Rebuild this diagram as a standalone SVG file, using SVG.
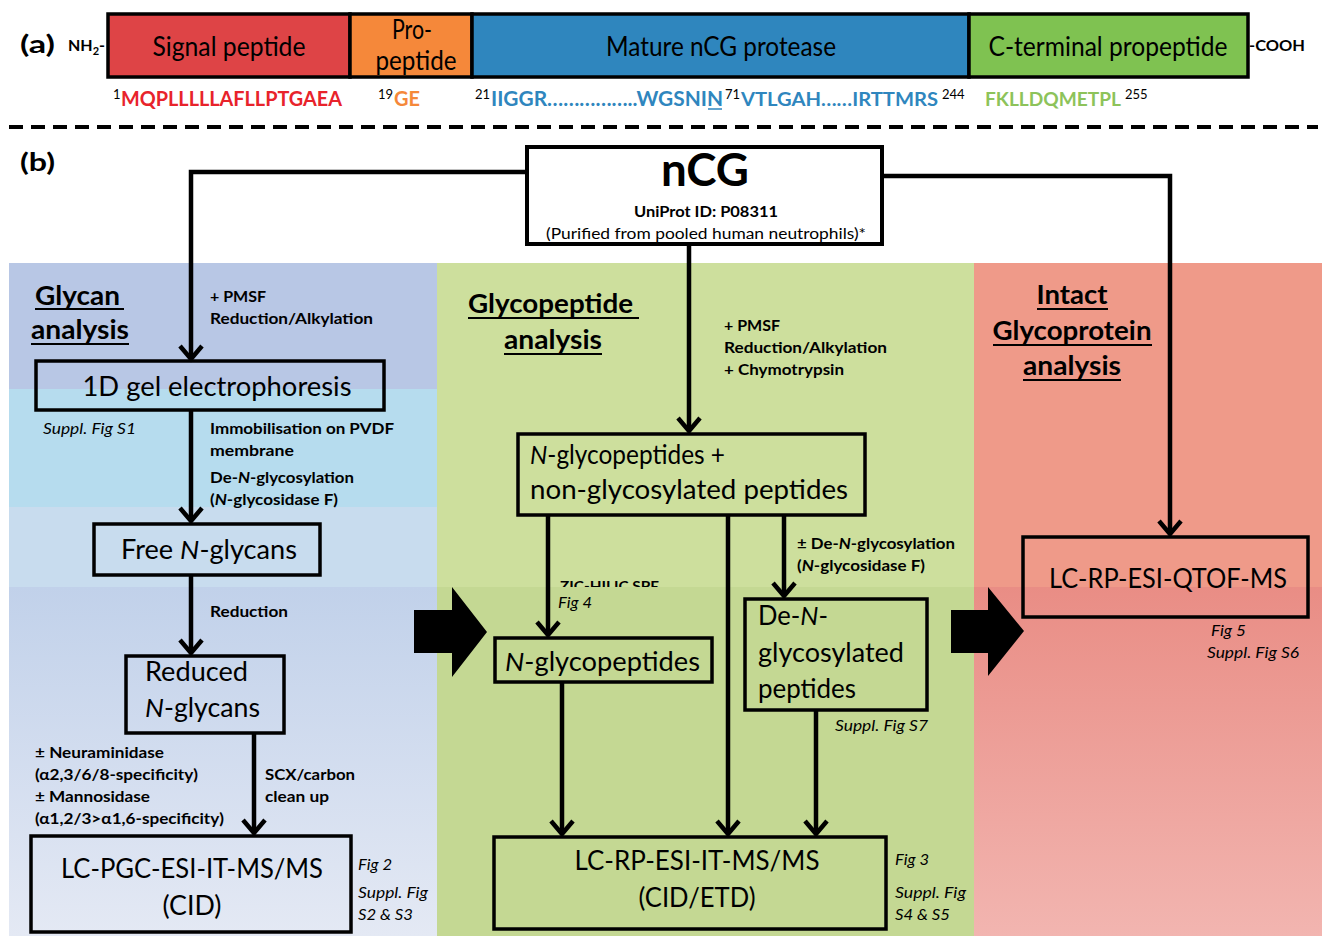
<svg xmlns="http://www.w3.org/2000/svg" width="1322" height="936" viewBox="0 0 1322 936">
<defs>
<linearGradient id="gL" x1="0" y1="0" x2="0" y2="1"><stop offset="0" stop-color="#c1d1ea"/><stop offset="1" stop-color="#e4e9f4"/></linearGradient>
<linearGradient id="gR" x1="0" y1="0" x2="0" y2="1"><stop offset="0" stop-color="#e98d85"/><stop offset="1" stop-color="#f2b5b0"/></linearGradient>
<marker id="ah" viewBox="-16 -13 20 26" markerWidth="20" markerHeight="26" refX="0" refY="0" orient="auto" markerUnits="userSpaceOnUse" overflow="visible">
<path d="M-13,-11 L0,0 L-13,11" fill="none" stroke="#000" stroke-width="4.5" stroke-linejoin="miter"/>
</marker>
<clipPath id="cz"><rect x="540" y="560" width="200" height="27"/></clipPath>
</defs>
<style>
text{font-family:"Lato","Open Sans","Liberation Sans",sans-serif;fill:#000}
.box{fill:none;stroke:#000;stroke-width:3.5}
.seg{stroke:#000;stroke-width:3.5}
.lbl{font-size:26px}
.big{font-size:27px}
.sm{font-size:15.5px;font-weight:bold}
.it{font-size:15px;font-style:italic}
.hd{font-size:26px;font-weight:bold}
.ul{stroke:#000;stroke-width:2}
.con{fill:none;stroke:#000;stroke-width:4.5}
.seq{font-size:20px;font-weight:bold}
.sup{font-size:13px;fill:#000}
</style>

<!-- backgrounds -->
<g id="backgrounds">
<rect x="9" y="263" width="428" height="126" fill="#b8c7e5"/>
<rect x="9" y="389" width="428" height="118" fill="#b6dcee"/>
<rect x="9" y="507" width="428" height="80" fill="#c8dcee"/>
<rect x="9" y="587" width="428" height="349" fill="url(#gL)"/>
<rect x="437" y="263" width="537" height="324" fill="#cddf9d"/>
<rect x="437" y="587" width="537" height="349" fill="#c4d893"/>
<rect x="974" y="263" width="348" height="324" fill="#ef9a89"/>
<rect x="974" y="587" width="348" height="349" fill="url(#gR)"/>
</g>

<!-- part (a) -->
<g id="panel-a">
<text x="20" y="53" style="font-size:25px;font-weight:bold" textLength="35" lengthAdjust="spacingAndGlyphs">(a)</text>
<text x="68" y="51" style="font-size:16px;font-weight:bold">NH<tspan style="font-size:11px" dy="4">2</tspan><tspan dy="-4">-</tspan></text>
<g id="seg-signal"><rect x="108" y="14" width="242" height="63" fill="#de4446" class="seg"/><text x="229" y="56" class="lbl" text-anchor="middle" textLength="153" lengthAdjust="spacingAndGlyphs">Signal peptide</text></g>
<g id="seg-pro"><rect x="350" y="14" width="122" height="63" fill="#f5883a" class="seg"/><text x="412" y="39" class="lbl" text-anchor="middle" textLength="40" lengthAdjust="spacingAndGlyphs">Pro-</text><text x="416" y="70" class="lbl" text-anchor="middle" textLength="81" lengthAdjust="spacingAndGlyphs">peptide</text></g>
<g id="seg-mature"><rect x="472" y="14" width="497" height="63" fill="#2f86be" class="seg"/><text x="721" y="56" class="lbl" text-anchor="middle" textLength="230" lengthAdjust="spacingAndGlyphs">Mature nCG protease</text></g>
<g id="seg-cterm"><rect x="969" y="14" width="279" height="63" fill="#7fc251" class="seg"/><text x="1108" y="56" class="lbl" text-anchor="middle" textLength="239" lengthAdjust="spacingAndGlyphs">C-terminal propeptide</text></g>
<text x="1249" y="51" style="font-size:16px;font-weight:bold" textLength="56" lengthAdjust="spacingAndGlyphs">-COOH</text>
<g id="sequences">
<text x="113" y="99" class="sup">1</text>
<text x="121" y="106" class="seq" style="fill:#e8232b" textLength="221" lengthAdjust="spacingAndGlyphs">MQPLLLLLAFLLPTGAEA</text>
<text x="378" y="99" class="sup">19</text>
<text x="394" y="106" class="seq" style="fill:#f5883a" textLength="26" lengthAdjust="spacingAndGlyphs">GE</text>
<text x="475" y="99" class="sup">21</text>
<text x="491" y="106" class="seq" style="fill:#2f86be" textLength="232" lengthAdjust="spacingAndGlyphs">IIGGR……………..WGSNIN</text>
<line x1="708" y1="109" x2="722" y2="109" stroke="#2f86be" stroke-width="1.5"/>
<text x="725" y="99" class="sup">71</text>
<text x="741" y="106" class="seq" style="fill:#2f86be;font-size:18px" textLength="197" lengthAdjust="spacingAndGlyphs">VTLGAH……IRTTMRS</text>
<text x="942" y="99" class="sup">244</text>
<text x="985" y="106" class="seq" style="fill:#8dc35a;font-size:18px" textLength="136" lengthAdjust="spacingAndGlyphs">FKLLDQMETPL</text>
<text x="1125" y="99" class="sup">255</text>
</g>
<line x1="9" y1="127" x2="1318" y2="127" stroke="#000" stroke-width="4" stroke-dasharray="14 8"/>
</g>

<text x="20" y="171" style="font-size:25px;font-weight:bold" textLength="35" lengthAdjust="spacingAndGlyphs">(b)</text>

<!-- connectors -->
<g id="connectors">
<path class="con" d="M527,172 H191 V359" marker-end="url(#ah)"/>
<path class="con" d="M882,176 H1170 V534" marker-end="url(#ah)"/>
<path class="con" d="M689,244 V431" marker-end="url(#ah)"/>
<path class="con" d="M191,410 V521" marker-end="url(#ah)"/>
<path class="con" d="M191,575 V653" marker-end="url(#ah)"/>
<path class="con" d="M254,733 V833" marker-end="url(#ah)"/>
<path class="con" d="M548,515 V635" marker-end="url(#ah)"/>
<path class="con" d="M728,515 V834" marker-end="url(#ah)"/>
<path class="con" d="M784,515 V596" marker-end="url(#ah)"/>
<path class="con" d="M562,682 V834" marker-end="url(#ah)"/>
<path class="con" d="M816,710 V834" marker-end="url(#ah)"/>
<polygon points="414,610 452,610 452,587 487,632 452,677 452,653 414,653" fill="#000"/>
<polygon points="951,610 988,610 988,587 1024,631 988,676 988,653 951,653" fill="#000"/>
</g>

<!-- nCG -->
<g id="node-ncg">
<rect x="527" y="147" width="355" height="97" fill="#fff" stroke="#000" stroke-width="4"/>
<text x="705" y="186" text-anchor="middle" style="font-size:46px;font-weight:bold" textLength="88" lengthAdjust="spacingAndGlyphs">nCG</text>
<text x="706" y="217" text-anchor="middle" class="sm" textLength="144" lengthAdjust="spacingAndGlyphs">UniProt ID: P08311</text>
<text x="706" y="239" text-anchor="middle" style="font-size:15.5px" textLength="320" lengthAdjust="spacingAndGlyphs">(Purified from pooled human neutrophils)*</text>
</g>

<!-- left panel -->
<g id="title-glycan">
<text x="35" y="305" class="hd" textLength="85" lengthAdjust="spacingAndGlyphs">Glycan</text>
<line class="ul" x1="35" y1="309" x2="124" y2="309"/>
<text x="31" y="339" class="hd" textLength="98" lengthAdjust="spacingAndGlyphs">analysis</text>
<line class="ul" x1="31" y1="344" x2="129" y2="344"/>
</g>
<g id="lbl-left1">
<text x="210" y="302" class="sm" textLength="56" lengthAdjust="spacingAndGlyphs">+ PMSF</text>
<text x="210" y="324" class="sm" textLength="163" lengthAdjust="spacingAndGlyphs">Reduction/Alkylation</text>
</g>
<g id="node-gel">
<rect class="box" x="36" y="361" width="348" height="49"/>
<text x="217" y="396" class="big" text-anchor="middle" textLength="269" lengthAdjust="spacingAndGlyphs">1D gel electrophoresis</text>
<text x="43" y="434" class="it" textLength="93" lengthAdjust="spacingAndGlyphs">Suppl. Fig S1</text>
</g>
<g id="lbl-left2">
<text x="210" y="434" class="sm" textLength="184" lengthAdjust="spacingAndGlyphs">Immobilisation on PVDF</text>
<text x="210" y="456" class="sm" textLength="84" lengthAdjust="spacingAndGlyphs">membrane</text>
<text x="210" y="483" class="sm" textLength="144" lengthAdjust="spacingAndGlyphs">De-<tspan font-style="italic">N</tspan>-glycosylation</text>
<text x="210" y="505" class="sm" textLength="128" lengthAdjust="spacingAndGlyphs">(<tspan font-style="italic">N</tspan>-glycosidase F)</text>
</g>
<g id="node-free">
<rect class="box" x="94" y="524" width="226" height="51"/>
<text x="209" y="559" class="lbl" text-anchor="middle" textLength="176" lengthAdjust="spacingAndGlyphs">Free <tspan font-style="italic">N</tspan>-glycans</text>
</g>
<text x="210" y="617" class="sm" textLength="78" lengthAdjust="spacingAndGlyphs">Reduction</text>
<g id="node-reduced">
<rect class="box" x="126" y="656" width="158" height="77"/>
<text x="145" y="681" class="lbl" textLength="103" lengthAdjust="spacingAndGlyphs">Reduced</text>
<text x="145" y="717" class="lbl" textLength="115" lengthAdjust="spacingAndGlyphs"><tspan font-style="italic">N</tspan>-glycans</text>
</g>
<g id="lbl-left3">
<text x="35" y="758" class="sm" textLength="129" lengthAdjust="spacingAndGlyphs">± Neuraminidase</text>
<text x="35" y="780" class="sm" textLength="163" lengthAdjust="spacingAndGlyphs">(α2,3/6/8-specificity)</text>
<text x="35" y="802" class="sm" textLength="115" lengthAdjust="spacingAndGlyphs">± Mannosidase</text>
<text x="35" y="824" class="sm" textLength="189" lengthAdjust="spacingAndGlyphs">(α1,2/3&gt;α1,6-specificity)</text>
<text x="265" y="780" class="sm" textLength="90" lengthAdjust="spacingAndGlyphs">SCX/carbon</text>
<text x="265" y="802" class="sm" textLength="64" lengthAdjust="spacingAndGlyphs">clean up</text>
</g>
<g id="node-pgc">
<rect class="box" x="31" y="836" width="320" height="96"/>
<text x="192" y="878" class="big" text-anchor="middle" textLength="262" lengthAdjust="spacingAndGlyphs">LC-PGC-ESI-IT-MS/MS</text>
<text x="192" y="915" class="big" text-anchor="middle" textLength="59" lengthAdjust="spacingAndGlyphs">(CID)</text>
<text x="358" y="870" class="it" textLength="34" lengthAdjust="spacingAndGlyphs">Fig 2</text>
<text x="358" y="898" class="it" textLength="70" lengthAdjust="spacingAndGlyphs">Suppl. Fig</text>
<text x="358" y="920" class="it" textLength="55" lengthAdjust="spacingAndGlyphs">S2 &amp; S3</text>
</g>

<!-- middle panel -->
<g id="title-glycopeptide">
<text x="468" y="313" class="hd" textLength="165" lengthAdjust="spacingAndGlyphs">Glycopeptide</text>
<line class="ul" x1="468" y1="318" x2="639" y2="318"/>
<text x="504" y="349" class="hd" textLength="98" lengthAdjust="spacingAndGlyphs">analysis</text>
<line class="ul" x1="504" y1="354" x2="602" y2="354"/>
</g>
<g id="lbl-mid1">
<text x="724" y="331" class="sm" textLength="56" lengthAdjust="spacingAndGlyphs">+ PMSF</text>
<text x="724" y="353" class="sm" textLength="163" lengthAdjust="spacingAndGlyphs">Reduction/Alkylation</text>
<text x="724" y="375" class="sm" textLength="120" lengthAdjust="spacingAndGlyphs">+ Chymotrypsin</text>
</g>
<g id="node-mix">
<rect class="box" x="518" y="434" width="347" height="81"/>
<text x="530" y="464" class="lbl" textLength="195" lengthAdjust="spacingAndGlyphs"><tspan font-style="italic">N</tspan>-glycopeptides +</text>
<text x="530" y="499" class="lbl" textLength="318" lengthAdjust="spacingAndGlyphs">non-glycosylated peptides</text>
</g>
<g id="lbl-mid2">
<text x="797" y="549" class="sm" textLength="158" lengthAdjust="spacingAndGlyphs">± De-<tspan font-style="italic">N</tspan>-glycosylation</text>
<text x="797" y="571" class="sm" textLength="128" lengthAdjust="spacingAndGlyphs">(<tspan font-style="italic">N</tspan>-glycosidase F)</text>
<text x="560" y="591" class="sm" style="font-size:14px" clip-path="url(#cz)" textLength="99" lengthAdjust="spacingAndGlyphs">ZIC-HILIC SPE</text>
<text x="558" y="608" class="it" textLength="34" lengthAdjust="spacingAndGlyphs">Fig 4</text>
</g>
<g id="node-nglyco">
<rect class="box" x="495" y="638" width="217" height="44"/>
<text x="505" y="671" class="lbl" textLength="195" lengthAdjust="spacingAndGlyphs"><tspan font-style="italic">N</tspan>-glycopeptides</text>
</g>
<g id="node-deglyco">
<rect class="box" x="745" y="599" width="182" height="111"/>
<text x="758" y="625" class="lbl" textLength="70" lengthAdjust="spacingAndGlyphs">De-<tspan font-style="italic">N</tspan>-</text>
<text x="758" y="662" class="lbl" textLength="146" lengthAdjust="spacingAndGlyphs">glycosylated</text>
<text x="758" y="698" class="lbl" textLength="98" lengthAdjust="spacingAndGlyphs">peptides</text>
<text x="835" y="731" class="it" textLength="93" lengthAdjust="spacingAndGlyphs">Suppl. Fig S7</text>
</g>
<g id="node-rp">
<rect class="box" x="494" y="837" width="392" height="92"/>
<text x="697" y="870" class="big" text-anchor="middle" textLength="245" lengthAdjust="spacingAndGlyphs">LC-RP-ESI-IT-MS/MS</text>
<text x="697" y="907" class="big" text-anchor="middle" textLength="117" lengthAdjust="spacingAndGlyphs">(CID/ETD)</text>
<text x="895" y="865" class="it" textLength="34" lengthAdjust="spacingAndGlyphs">Fig 3</text>
<text x="895" y="898" class="it" textLength="71" lengthAdjust="spacingAndGlyphs">Suppl. Fig</text>
<text x="895" y="920" class="it" textLength="55" lengthAdjust="spacingAndGlyphs">S4 &amp; S5</text>
</g>

<!-- right panel -->
<g id="title-intact">
<text x="1072" y="304" class="hd" text-anchor="middle" textLength="71" lengthAdjust="spacingAndGlyphs">Intact</text>
<line class="ul" x1="1037" y1="309" x2="1108" y2="309"/>
<text x="1072" y="340" class="hd" text-anchor="middle" textLength="159" lengthAdjust="spacingAndGlyphs">Glycoprotein</text>
<line class="ul" x1="993" y1="345" x2="1152" y2="345"/>
<text x="1072" y="375" class="hd" text-anchor="middle" textLength="98" lengthAdjust="spacingAndGlyphs">analysis</text>
<line class="ul" x1="1023" y1="380" x2="1121" y2="380"/>
</g>
<g id="node-qtof">
<rect class="box" x="1023" y="537" width="285" height="80"/>
<text x="1168" y="588" class="lbl" text-anchor="middle" textLength="238" lengthAdjust="spacingAndGlyphs">LC-RP-ESI-QTOF-MS</text>
<text x="1211" y="636" class="it" textLength="35" lengthAdjust="spacingAndGlyphs">Fig 5</text>
<text x="1207" y="658" class="it" textLength="92" lengthAdjust="spacingAndGlyphs">Suppl. Fig S6</text>
</g>
</svg>
